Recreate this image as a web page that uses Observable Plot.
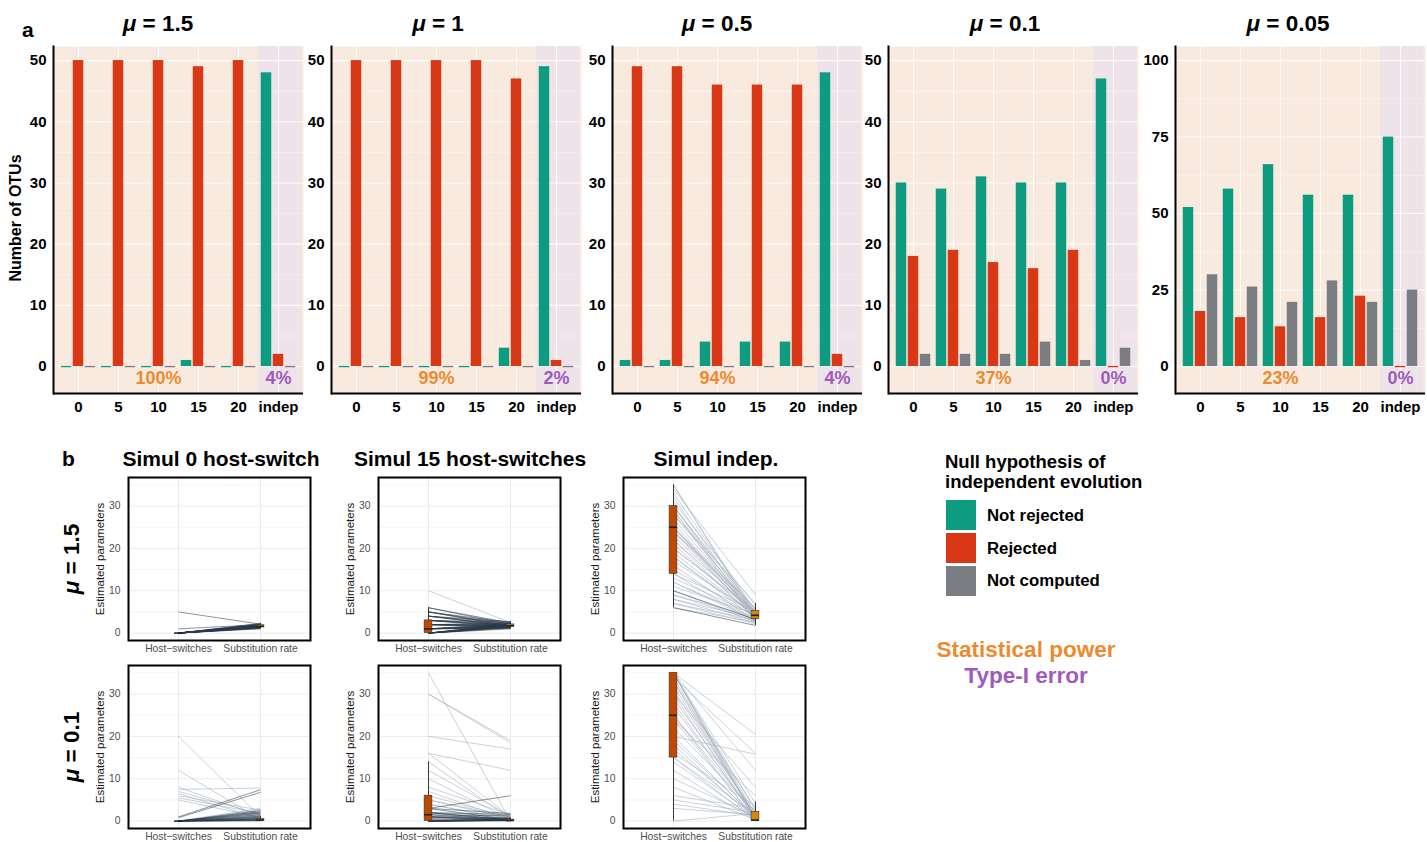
<!DOCTYPE html>
<html><head><meta charset="utf-8">
<script src="https://cdn.jsdelivr.net/npm/d3@7"></script>
<script src="https://cdn.jsdelivr.net/npm/@observablehq/plot@0.6"></script>
<style>
body{margin:0;background:#fff;font-family:"Liberation Sans",Arial,Helvetica,sans-serif;}
#root{position:relative;width:1427px;height:842px;overflow:hidden;background:#fff;}
.lbl{position:absolute;white-space:nowrap;font-weight:bold;line-height:1;color:#000;}
</style></head><body><div id="root"></div>
<script>
// ---------- DATA: panel a ----------
const categories = ["0","5","10","15","20","indep"];
const statuses = ["Not rejected","Rejected","Not computed"];
const statusColors = ["#0E9C80","#D93816","#7A7D81"];
const muValues = ["1.5","1","0.5","0.1","0.05"];
const mu15NotRejected = [0,0,0,1,0,48];
const mu15Rejected    = [50,50,50,49,50,2];
const mu15NotComputed = [0,0,0,0,0,0];
const mu1NotRejected  = [0,0,0,0,3,49];
const mu1Rejected     = [50,50,50,50,47,1];
const mu1NotComputed  = [0,0,0,0,0,0];
const mu05NotRejected = [1,1,4,4,4,48];
const mu05Rejected    = [49,49,46,46,46,2];
const mu05NotComputed = [0,0,0,0,0,0];
const mu01NotRejected = [30,29,31,30,30,47];
const mu01Rejected    = [18,19,17,16,19,0];
const mu01NotComputed = [2,2,2,4,1,3];
const mu005NotRejected = [52,58,66,56,56,75];
const mu005Rejected    = [18,16,13,16,23,0];
const mu005NotComputed = [30,26,21,28,21,25];
const powerLabels = ["100%","99%","94%","37%","23%"];
const typeILabels = ["4%","2%","4%","0%","0%"];
const ticks50 = [0,10,20,30,40,50];
const ticks100 = [0,25,50,75,100];

// ---------- DATA: panel b ----------
const params = ["Host\u2212switches","Substitution rate"];
const ticksB = [0,10,20,30];
// row mu=1.5, Simul 0 host-switch
const b11Hs = [0,0,0,0,0,0,0,0,0,0,0,0,0,0,0,0,0,0,0,0,0,0,0,0,0,0,0,0,0,0,0,0,0,0,0,0,0,0,0,0,0,0,0,0,0,0,0,0,1,5];
const b11Sr = [1.2,1.4,1.5,1.6,1.3,1.7,1.8,1.5,1.4,1.6,1.9,2.0,1.5,1.7,1.6,1.3,1.8,2.1,1.4,1.5,1.6,1.7,1.9,1.2,1.5,1.6,2.2,1.8,1.4,1.7,1.0,1.5,1.6,1.9,2.0,1.3,1.7,1.6,1.5,1.8,2.3,1.1,1.4,1.6,1.7,1.9,1.5,1.6,2.0,2.1];
const b11Rej = b11Hs.map(()=>1);
const b11HsBox = [0,0,0,0,0];
const b11SrBox = [1.0,1.35,1.6,1.85,2.3];
// row mu=1.5, Simul 15 host-switches
const b12Hs = [0,0,0,0,0,0,0,0,0,0,0,0,0,0,1,1,1,1,1,1,1,1,1,1,2,2,2,2,2,2,2,2,3,3,3,3,3,3,4,4,4,4,4,5,5,5,5,6,6,10];
const b12Sr = [1.0,1.2,1.4,1.5,1.6,1.8,2.0,2.2,1.3,1.7,1.9,2.1,1.5,1.6,1.1,1.4,1.7,1.9,2.3,1.6,1.8,1.5,2.0,1.2,1.3,1.6,1.8,2.1,2.4,1.7,1.5,1.9,1.4,1.8,2.2,2.6,1.6,2.0,1.5,1.9,2.3,2.7,1.7,1.8,2.1,2.5,1.6,2.0,2.4,2.5];
const b12Rej = [1,1,1,1,1,1,1,1,1,1,1,1,1,1,1,1,1,1,1,1,1,1,1,1,1,1,1,1,1,1,1,1,1,1,1,1,1,1,1,1,1,1,1,1,1,1,1,1,1,0];
const b12HsBox = [0,0,1,3,6];
const b12SrBox = [1.0,1.5,1.75,2.05,2.7];
// row mu=1.5, Simul indep.
const b13Hs = [35,35,34,33,32,31,30,30,30,29,29,28,28,27,26,25,25,25,25,24,24,24,23,22,21,20,19,18,17,16,15,14,14,13,12,12,11,10,10,9,9,8,8,7,7,6,6,20,22,18];
const b13Sr = [4.5,3.8,9.0,5.2,4.0,6.5,3.5,4.8,5.5,4.2,3.0,5.0,7.0,4.4,3.9,5.8,4.6,3.3,4.1,5.0,3.6,6.0,4.3,4.9,3.7,5.3,4.0,3.4,4.7,2.8,3.9,5.1,2.5,4.2,3.6,3.0,4.5,3.2,2.6,3.8,2.9,3.5,2.4,3.1,2.2,1.8,2.6,4.8,3.3,4.0];
const b13Rej = [0,0,0,0,0,0,0,0,0,0,0,0,0,0,0,0,0,0,0,0,0,0,0,0,0,0,0,0,0,0,0,0,0,0,0,0,0,1,0,0,0,0,0,0,0,1,0,0,0,0];
const b13HsBox = [6,14,25,30,35];
const b13SrBox = [1.8,3.3,4.2,5.2,7.0];
// row mu=0.1, Simul 0 host-switch
const b21Hs = [20,12,8,7,6.5,6,5.5,5,7.5,1,0.8,0,0,0,0,0,0,0,0,0,0,0,0,0,0,0,0,0,0,0,0,0,0,0,0,0,0,0,0,0,0,0,0,0,0,0,0,0];
const b21Sr = [1.0,0.4,1.2,1.6,0.6,2.6,1.8,0.9,7.8,7.4,6.8,2.5,2.2,2.0,1.8,1.5,1.2,1.0,0.8,0.6,0.5,0.4,0.3,0.2,0.1,0.3,0.5,0.7,0.2,0.1,3.0,2.8,2.4,1.6,1.3,0.9,0.6,0.4,0.2,0.1,0.3,0.5,0.2,1.1,0.8,0.3,0.2,0.1];
const b21Rej = [0,0,0,0,0,0,0,0,0,1,1,1,1,1,1,1,1,1,1,1,1,1,1,1,1,0,0,0,0,0,0,0,0,0,0,0,0,0,0,0,0,0,0,0,0,0,0,0];
const b21HsBox = [0,0,0,0,0];
const b21SrBox = [0,0.05,0.25,0.5,1.0];
// row mu=0.1, Simul 15 host-switches
const b22Hs = [35,30,30,20,16,16,14,12,10,8,7,6,5,5,4,4,3,3,3,2,2,2,1.5,1.5,1,1,1,1,0.5,0.5,0,0,0,0,0,0,0,0,0,0,2,1,0,0,0,0,0,0];
const b22Sr = [0,19,18.5,17,12,1,0.5,1.2,0.4,1.5,0.3,0.8,0.6,1.0,0.5,0.2,6,1.8,0.3,1.6,0.4,0.2,1.2,0.3,0.5,0.1,0.8,0.2,0.6,0.1,0.3,0.2,0.5,0.1,0.4,0.2,0.1,0.6,0.3,0.2,1.2,1.4,0.9,0.5,0.3,0.1,0.2,0.4];
const b22Rej = [0,0,0,0,0,0,0,0,0,0,0,0,0,0,0,0,1,1,1,1,1,1,1,1,1,1,1,1,1,1,1,1,1,1,1,1,1,1,1,1,0,0,0,0,0,0,0,0];
const b22HsBox = [0,0,1.5,6,14];
const b22SrBox = [0,0.05,0.15,0.35,0.7];
// row mu=0.1, Simul indep.
const b23Hs = [35,35,35,35,35,35,34,34,33,32,30,30,29,28,27,25,25,24,24,22,20,20,19,18,17,16,15,15,14,12,10,8,6,5,4,3,0,35,33,31];
const b23Sr = [0.2,0.8,1.5,2.5,20.5,12,16,0.5,3,1,0.3,8,2,0.5,1.2,0.1,1.5,6,0.4,2.2,15.8,0.6,1,0.2,0.8,3.5,0.1,1.6,0.5,0,1,0.3,3,2,1.2,1.5,1.8,4.2,0.6,1.1];
const b23Rej = b23Hs.map(()=>0);
const b23HsBox = [0,15,25,35,35];
const b23SrBox = [0,0,0.25,2.2,4.5];

// ---------- LAYOUT ----------
const FONT = '"Liberation Sans", Arial, Helvetica, sans-serif';
const ORANGE = "#EE8A2E", PURPLE = "#9D5BBF";
const root = document.getElementById("root");
function place(el, left, top){ el.style.position="absolute"; el.style.left=left+"px"; el.style.top=top+"px"; root.appendChild(el); return el; }
function text(html, cx, cy, size, color="#000", anchor="center"){
  const d=document.createElement("div"); d.className="lbl"; d.innerHTML=html;
  d.style.fontSize=size+"px"; d.style.color=color; d.style.left=cx+"px"; d.style.top=cy+"px";
  const tx = anchor==="center" ? "-50%" : "0";
  d.style.transform=`translate(${tx},-50%)`;
  root.appendChild(d); return d;
}
function rotText(html, cx, cy, size, color="#000", weight="bold"){
  const d=document.createElement("div"); d.className="lbl"; d.innerHTML=html;
  d.style.fontSize=size+"px"; d.style.color=color; d.style.fontWeight=weight;
  d.style.left=cx+"px"; d.style.top=cy+"px";
  d.style.transform="translate(-50%,-50%) rotate(-90deg)";
  root.appendChild(d); return d;
}

// ---------- PANEL a ----------
const seriesByPanel = [
  [mu15NotRejected, mu15Rejected, mu15NotComputed],
  [mu1NotRejected, mu1Rejected, mu1NotComputed],
  [mu05NotRejected, mu05Rejected, mu05NotComputed],
  [mu01NotRejected, mu01Rejected, mu01NotComputed],
  [mu005NotRejected, mu005Rejected, mu005NotComputed]
];
const axisLefts = [53, 331, 612, 888, 1175];
const titleCenters = [158, 438, 717, 1005, 1288];
const FW = 250, SVG_TOP = 40, FRAME_TOP = 46, FRAME_H = 347;
const BAR_W = 11, BAR_STEP = 12;

seriesByPanel.forEach((ser, i) => {
  const big = i === 4;
  const yDomain = big ? [-8.8, 104.6] : [-4.4, 52.3];
  const ticks = big ? ticks100 : ticks50;
  const minor = ticks.slice(0, -1).map((t, j) => (t + ticks[j + 1]) / 2);
  const rows = categories.flatMap((c, j) => statuses.map((s, k) => ({cat: c, status: s, k, n: ser[k][j]})));
  const mL = big ? 48 : 42, mR = 3, mT = FRAME_TOP - SVG_TOP, mB = 27;
  const po = 0.086;
  const step = FW / (categories.length + 2 * po);
  const inset = (step - BAR_W) / 2;
  const marks = [
    Plot.frame({fill: "#F9EADF", stroke: null}),
    Plot.barY([{cat: "indep"}], {x: "cat", y1: yDomain[0], y2: yDomain[1], fill: "#EFE3EA", insetRight: -po * step}),
    Plot.gridY(minor, {stroke: "#fff", strokeOpacity: 0.55, strokeWidth: 0.6}),
    Plot.gridY(ticks, {stroke: "#fff", strokeOpacity: 0.85, strokeWidth: 1.1}),
    Plot.gridX(categories, {stroke: "#fff", strokeOpacity: 0.85, strokeWidth: 1.1}),
  ];
  statuses.forEach((s, k) => {
    const sub = rows.filter(r => r.k === k);
    marks.push(Plot.barY(sub.filter(r => r.n > 0), {x: "cat", y: "n", fill: statusColors[k], dx: (k - 1) * BAR_STEP, insetLeft: inset, insetRight: inset}));
    marks.push(Plot.tickY(sub.filter(r => r.n === 0), {x: "cat", y: "n", stroke: statusColors[k], strokeWidth: 1.3, dx: (k - 1) * BAR_STEP, insetLeft: inset, insetRight: inset}));
  });
  marks.push(
    Plot.text([{cat: "10", label: powerLabels[i]}], {x: "cat", text: "label", frameAnchor: "bottom", dy: -10, fill: ORANGE, fontSize: 18, fontWeight: "bold"}),
    Plot.text([{cat: "indep", label: typeILabels[i]}], {x: "cat", text: "label", frameAnchor: "bottom", dy: -10, fill: PURPLE, fontSize: 18, fontWeight: "bold"}),
    Plot.ruleY([yDomain[0]], {stroke: "#000", strokeWidth: 2}),
    Plot.frame({anchor: "left", stroke: "#000", strokeWidth: 2}),
    Plot.axisY(ticks, {tickSize: 0, tickPadding: 7, label: null}),
    Plot.axisX({tickSize: 0, tickPadding: 8, label: null})
  );
  const svg = Plot.plot({
    width: mL + FW + mR, height: mT + FRAME_H + mB,
    marginLeft: mL, marginRight: mR, marginTop: mT, marginBottom: mB,
    x: {type: "band", domain: categories, paddingInner: 0, paddingOuter: po},
    y: {domain: yDomain},
    style: {fontFamily: FONT, fontSize: "15px", fontWeight: "bold", color: "#000", background: "transparent", overflow: "visible"},
    marks
  });
  place(svg, axisLefts[i] - mL, SVG_TOP);
  text(`<i>\u03bc</i> = ${muValues[i]}`, titleCenters[i], 24, 22.5);
});
text("a", 22, 29, 21, "#000", "left");
rotText("Number of OTUs", 16, 218, 16);

// ---------- PANEL b ----------
const colLefts = [128, 378, 623], rowTops = [477, 665];
const BW = 182, BH = 163;
const panelsB = [
  [b11Hs, b11Sr, b11Rej, b11HsBox, b11SrBox, 0, 0],
  [b12Hs, b12Sr, b12Rej, b12HsBox, b12SrBox, 0, 1],
  [b13Hs, b13Sr, b13Rej, b13HsBox, b13SrBox, 0, 2],
  [b21Hs, b21Sr, b21Rej, b21HsBox, b21SrBox, 1, 0],
  [b22Hs, b22Sr, b22Rej, b22HsBox, b22SrBox, 1, 1],
  [b23Hs, b23Sr, b23Rej, b23HsBox, b23SrBox, 1, 2]
];
const boxFills = ["#BD4A02", "#D9870B"];
panelsB.forEach(([hs, sr, rej, hsBox, srBox, r, c]) => {
  const n = Math.min(hs.length, sr.length);
  const links = d3.range(n).map(j => ({hs: hs[j], sr: sr[j], rej: rej[j]}));
  const boxes = [hsBox, srBox].map((b, j) => ({p: params[j], lo: b[0], q1: b[1], med: b[2], q3: b[3], hi: b[4], j}));
  const mL = 34, mR = 4, mT = 3, mB = 16;
  const po = 0.1;
  const bw = BW / (2 + 2 * po);
  const bi = (bw - 8.5) / 2;
  const svg = Plot.plot({
    width: mL + BW + mR, height: mT + BH + mB,
    marginLeft: mL, marginRight: mR, marginTop: mT, marginBottom: mB,
    x: {type: "band", domain: params, paddingInner: 0, paddingOuter: po},
    y: {domain: [-1.75, 36.75]},
    style: {fontFamily: FONT, fontSize: "10.3px", color: "#4D4D4D", background: "transparent", overflow: "visible"},
    marks: [
      Plot.gridY([5, 15, 25, 35], {stroke: "#EBEBEB", strokeOpacity: 1, strokeWidth: 0.5}),
      Plot.gridY(ticksB, {stroke: "#EBEBEB", strokeOpacity: 1, strokeWidth: 1}),
      Plot.gridX(params, {stroke: "#EBEBEB", strokeOpacity: 1, strokeWidth: 1}),
      Plot.link(links.filter(d => !d.rej), {x1: () => params[0], x2: () => params[1], y1: "hs", y2: "sr", stroke: "#A5B0BE", strokeOpacity: 0.65, strokeWidth: 0.9}),
      Plot.link(links.filter(d => d.rej), {x1: () => params[0], x2: () => params[1], y1: "hs", y2: "sr", stroke: "#2B3A4A", strokeOpacity: 0.6, strokeWidth: 0.9}),
      Plot.ruleX(boxes, {x: "p", y1: "lo", y2: "hi", stroke: "#222", strokeWidth: 0.9}),
      Plot.barY(boxes.filter(b => b.j === 0), {x: "p", y1: "q1", y2: "q3", fill: boxFills[0], stroke: "#333", strokeWidth: 0.6, insetLeft: bi, insetRight: bi}),
      Plot.barY(boxes.filter(b => b.j === 1), {x: "p", y1: "q1", y2: "q3", fill: boxFills[1], stroke: "#333", strokeWidth: 0.6, insetLeft: bi, insetRight: bi}),
      Plot.tickY(boxes, {x: "p", y: "med", stroke: "#222", strokeWidth: 1.6, insetLeft: bi, insetRight: bi}),
      Plot.frame({stroke: "#000", strokeWidth: 2}),
      Plot.axisY(ticksB, {tickSize: 0, tickPadding: 8, label: null}),
      Plot.axisX({tickSize: 0, tickPadding: 4, label: null})
    ]
  });
  place(svg, colLefts[c] - mL, rowTops[r] - mT);
  rotText("Estimated parameters", colLefts[c] - 27, rowTops[r] + BH / 2, 11.5, "#1a1a1a", "normal");
});
text("b", 62, 458, 21, "#000", "left");
text("Simul 0 host-switch", 221, 458, 21);
text("Simul 15 host-switches", 470, 458, 21);
text("Simul indep.", 716, 458, 21);
rotText(`<i>\u03bc</i> = 1.5`, 72, rowTops[0] + BH / 2, 22.5);
rotText(`<i>\u03bc</i> = 0.1`, 72, rowTops[1] + BH / 2, 22.5);

// ---------- LEGEND ----------
const lt = document.createElement("div"); lt.className = "lbl";
lt.style.cssText += "font-size:18.5px;line-height:20px;";
lt.innerHTML = "Null hypothesis of<br>independent evolution";
place(lt, 945, 452);
statuses.forEach((s, k) => {
  const sw = document.createElement("div");
  sw.style.cssText = `width:30px;height:30px;background:${statusColors[k]};`;
  place(sw, 946, 500 + k * 33);
  text(s, 987, 516 + k * 32.5, 16.8, "#000", "left");
});
text("Statistical power", 1026, 650, 22.5, ORANGE);
text("Type-I error", 1026, 676, 22.5, PURPLE);
</script></body></html>
